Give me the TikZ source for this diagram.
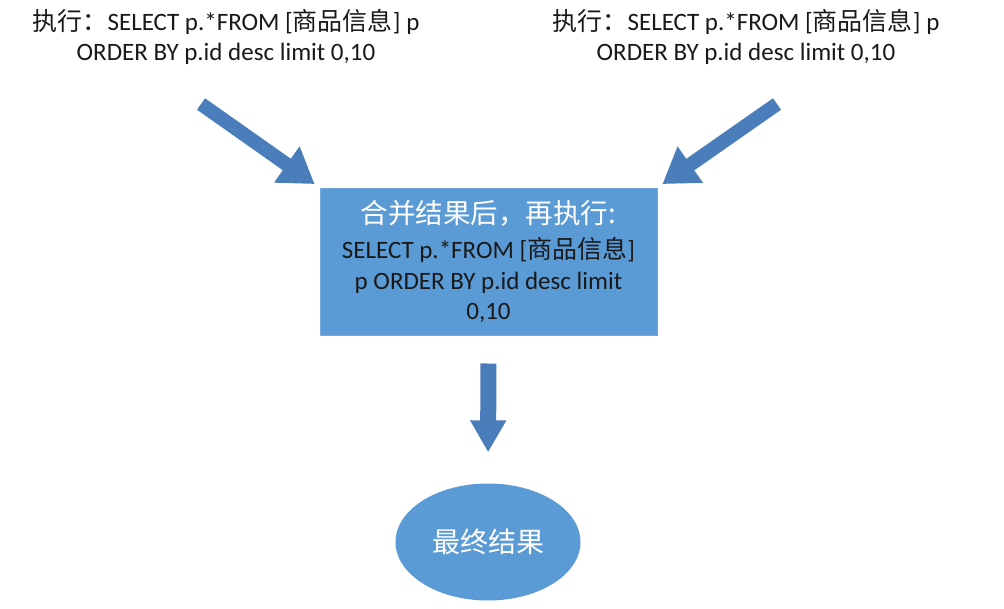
\documentclass[tikz,border=0pt]{standalone}
\usepackage{fontspec}
\setmainfont{Carlito}
\newfontfamily\cjk{Noto Sans CJK SC}
\usetikzlibrary{arrows.meta,shapes.geometric}
\definecolor{boxblue}{RGB}{91,155,213}
\definecolor{arrowblue}{RGB}{74,126,187}
\definecolor{txt}{RGB}{25,25,25}
\tikzset{
  toptext/.style={align=center,text=txt,font=\fontsize{25}{30}\selectfont,inner sep=0pt},
  mergebox/.style={rectangle,fill=boxblue,draw=boxblue!85!white,line width=1pt,minimum width=337pt,minimum height=147pt,align=center,text=txt,font=\fontsize{25}{30.5}\selectfont},
  resultnode/.style={ellipse,fill=boxblue,minimum width=185pt,minimum height=117pt,inner sep=0pt,text=white,font=\cjk\fontsize{28}{30}\selectfont},
  bigarrow/.style={draw=arrowblue,line width=14pt,-{Triangle[length=34pt,width=42pt,fill=arrowblue,color=arrowblue]}},
  downarrow/.style={draw=arrowblue,line width=16pt,-{Triangle[length=32pt,width=34pt,fill=arrowblue,color=arrowblue]}}
}
\begin{document}
\begin{tikzpicture}[x=1pt,y=-1pt]
\useasboundingbox (0,0) rectangle (1004,608);
\fill[white] (0,0) rectangle (1004,608);

\node[toptext] (q1) at (226,37) {{\cjk 执行：}SELECT p.*FROM [{\cjk 商品信息}] p\\ORDER BY p.id desc limit 0,10};
\node[toptext] (q2) at (746,37) {{\cjk 执行：}SELECT p.*FROM [{\cjk 商品信息}] p\\ORDER BY p.id desc limit 0,10};

\node[mergebox] (merge) at (488.5,261.5) {{\color{white}\cjk\fontsize{27.5}{31}\selectfont 合并结果后，再执行:}\\[5pt]SELECT p.*FROM [{\cjk 商品信息}]\\p ORDER BY p.id desc limit\\0,10};

\node[resultnode] (res) at (488,542) {最终结果};

\coordinate (t1) at (201,104);
\coordinate (t2) at (777,104);
\draw[bigarrow,shorten >=6pt] (t1) -- (merge.north west);
\draw[bigarrow,shorten >=6pt] (t2) -- (merge.north east);
\draw[downarrow,shorten <=28pt,shorten >=31pt] (merge.south) -- (res.north);
\end{tikzpicture}
\end{document}
